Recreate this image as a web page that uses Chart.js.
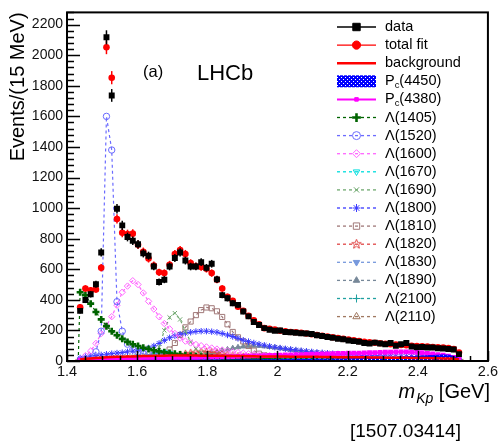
<!DOCTYPE html>
<html>
<head>
<meta charset="utf-8">
<title>m(Kp) projection</title>
<script src="https://cdn.jsdelivr.net/npm/chart.js@4.4.1/dist/chart.umd.min.js"></script>
<style>
  html, body { margin: 0; padding: 0; background: #fff; }
  #wrap { width: 500px; height: 444px; }
</style>
</head>
<body>
<div id="wrap"><canvas id="mkpChart" width="500" height="444"></canvas></div>
<script>
// binning: 15 MeV bins starting just below the K p threshold
const binStart = 1.43;
const binWidth = 0.015;
const threshold = 1.432;

// events per bin
const dataCounts = [328, 399, 436, 502, 710, 2117, 1737, 996, 887, 811,
  786, 764, 704, 689, 618, 517, 532, 618, 674, 710,
  657, 618, 618, 646, 610, 636, 534, 431, 410, 378,
  367, 324, 292, 255, 235, 215, 205, 198, 200, 190,
  188, 185, 182, 180, 176, 168, 163, 157, 152, 146,
  142, 134, 130, 126, 118, 115, 120, 114, 110, 118,
  100, 110, 118, 95, 90, 92, 88, 88, 84, 82,
  78, 75, 45];

const totalFit = [352, 474, 462, 468, 610, 2052, 1853, 929, 839, 830,
  833, 760, 715, 670, 625, 580, 575, 630, 700, 726,
  700, 640, 620, 615, 603, 575, 532, 474, 420, 393,
  355, 328, 295, 266, 240, 215, 210, 205, 198, 195,
  190, 188, 184, 180, 175, 170, 165, 160, 155, 150,
  145, 140, 135, 130, 126, 122, 119, 116, 113, 110,
  107, 105, 103, 100, 98, 96, 94, 92, 90, 88,
  84, 78, 55];

const background = [10, 14, 17, 20, 22, 24, 26, 27, 28, 29,
  30, 31, 32, 33, 34, 35, 35, 36, 36, 36,
  36, 36, 36, 35, 35, 35, 34, 34, 33, 33,
  32, 32, 31, 31, 30, 30, 30, 29, 29, 29,
  28, 28, 28, 27, 27, 27, 26, 26, 26, 25,
  25, 25, 24, 24, 24, 23, 23, 23, 22, 22,
  22, 21, 21, 20, 20, 19, 19, 18, 18, 17,
  16, 14, 10];

const pc4450 = [1, 1, 2, 2, 2, 2, 3, 3, 3, 3,
  3, 3, 4, 4, 4, 4, 4, 4, 5, 5,
  5, 5, 5, 5, 6, 6, 6, 6, 6, 6,
  7, 7, 7, 7, 7, 8, 8, 8, 8, 9,
  9, 9, 10, 10, 10, 11, 11, 12, 12, 13,
  13, 14, 14, 15, 16, 17, 18, 19, 20, 21,
  22, 24, 26, 28, 30, 32, 34, 36, 38, 40,
  38, 30, 15];

const pc4380 = [5, 6, 7, 8, 9, 10, 11, 12, 13, 14,
  15, 15, 16, 17, 18, 18, 19, 20, 20, 21,
  22, 22, 23, 24, 24, 25, 26, 27, 28, 29,
  30, 31, 32, 33, 34, 35, 36, 37, 38, 39,
  40, 41, 42, 43, 44, 45, 46, 47, 48, 49,
  50, 51, 52, 52, 53, 54, 55, 56, 57, 58,
  59, 60, 60, 58, 56, 54, 50, 46, 42, 38,
  32, 24, 12];

const lambda1405 = [450, 430, 375, 320, 272, 228, 195, 168, 145, 125,
  110, 98, 87, 78, 70, 63, 57, 52, 47, 42,
  38, 34, 31, 28, 25, 23, 21, 19, 17, 15,
  14, 13, 12, 11, 10, 9, 9, 8, 8, 7,
  7, 6, 6, 6, 5, 5, 5, 5, 4, 4,
  4, 4, 4, 3, 3, 3, 3, 3, 3, 2,
  2, 2, 2, 2, 2, 2, 2, 1, 1, 1,
  1, 1, 1];

const lambda1520 = [5, 10, 20, 60, 195, 1600, 1380, 388, 195, 110,
  75, 58, 48, 42, 38, 35, 32, 30, 28, 26,
  25, 24, 23, 22, 21, 20, 19, 18, 17, 16,
  16, 15, 14, 14, 13, 13, 12, 12, 11, 11,
  10, 10, 10, 9, 9, 9, 8, 8, 8, 8,
  7, 7, 7, 7, 6, 6, 6, 6, 5, 5,
  5, 5, 5, 4, 4, 4, 4, 4, 3, 3,
  3, 2, 1];

const lambda1600 = [10, 35, 65, 115, 180, 230, 290, 365, 450, 490,
  525, 500, 445, 390, 340, 290, 245, 210, 180, 150,
  130, 118, 108, 100, 92, 85, 78, 72, 66, 60,
  55, 51, 47, 44, 41, 38, 36, 34, 32, 30,
  29, 28, 27, 26, 25, 24, 23, 22, 21, 20,
  19, 18, 18, 17, 16, 16, 15, 15, 14, 14,
  13, 13, 12, 12, 11, 11, 10, 10, 9, 9,
  8, 7, 4];

const lambda1670 = [2, 3, 4, 5, 6, 7, 8, 9, 10, 12,
  14, 17, 22, 30, 42, 55, 60, 52, 40, 30,
  24, 20, 18, 16, 15, 14, 13, 12, 11, 11,
  10, 10, 9, 9, 9, 8, 8, 8, 7, 7,
  7, 7, 6, 6, 6, 6, 6, 5, 5, 5,
  5, 5, 5, 4, 4, 4, 4, 4, 4, 4,
  3, 3, 3, 3, 3, 3, 3, 3, 2, 2,
  2, 2, 1];

const lambda1690 = [5, 8, 10, 12, 15, 18, 20, 22, 25, 28,
  30, 32, 35, 40, 50, 90, 200, 285, 313, 272,
  195, 125, 80, 55, 44, 38, 34, 30, 28, 26,
  24, 22, 21, 20, 19, 18, 17, 16, 15, 15,
  14, 14, 13, 13, 12, 12, 11, 11, 11, 10,
  10, 10, 9, 9, 9, 8, 8, 8, 8, 7,
  7, 7, 7, 6, 6, 6, 6, 5, 5, 5,
  5, 4, 2];

const lambda1800 = [20, 28, 32, 36, 40, 44, 48, 52, 55, 60,
  64, 70, 76, 85, 98, 115, 135, 152, 165, 175,
  182, 188, 193, 195, 195, 192, 188, 180, 170, 160,
  148, 136, 127, 118, 110, 103, 96, 90, 85, 80,
  76, 72, 68, 64, 60, 57, 54, 51, 48, 46,
  44, 42, 40, 38, 36, 35, 34, 33, 32, 31,
  30, 30, 29, 29, 28, 28, 27, 27, 26, 25,
  22, 18, 10];

const lambda1810 = [3, 4, 5, 6, 7, 8, 9, 10, 11, 12,
  13, 15, 17, 20, 26, 34, 45, 75, 118, 170,
  220, 258, 300, 333, 350, 345, 325, 288, 240, 190,
  155, 128, 98, 68, 48, 38, 32, 28, 25, 23,
  21, 19, 18, 17, 16, 15, 14, 13, 12, 12,
  11, 11, 10, 10, 9, 9, 9, 8, 8, 8,
  7, 7, 7, 6, 6, 6, 6, 5, 5, 5,
  4, 4, 2];

const lambda1820 = [2, 3, 4, 5, 6, 7, 8, 9, 10, 11,
  12, 13, 14, 16, 18, 20, 23, 27, 32, 38,
  44, 50, 55, 58, 58, 55, 50, 44, 38, 33,
  28, 25, 22, 20, 18, 16, 15, 14, 13, 12,
  11, 11, 10, 10, 9, 9, 8, 8, 8, 7,
  7, 7, 6, 6, 6, 6, 5, 5, 5, 5,
  4, 4, 4, 4, 4, 3, 3, 3, 3, 3,
  2, 2, 1];

const lambda1830 = [1, 2, 2, 3, 3, 4, 4, 5, 5, 6,
  6, 7, 8, 9, 10, 11, 12, 13, 14, 15,
  16, 17, 18, 18, 19, 19, 19, 18, 18, 17,
  16, 15, 14, 13, 12, 12, 11, 10, 10, 9,
  9, 8, 8, 8, 7, 7, 7, 6, 6, 6,
  6, 5, 5, 5, 5, 5, 4, 4, 4, 4,
  4, 3, 3, 3, 3, 3, 3, 2, 2, 2,
  2, 2, 1];

const lambda1890 = [2, 3, 3, 4, 4, 5, 5, 6, 6, 7,
  8, 9, 10, 11, 12, 14, 16, 18, 20, 23,
  26, 30, 35, 40, 46, 53, 60, 68, 76, 84,
  90, 95, 99, 100, 99, 96, 92, 88, 83, 78,
  73, 68, 64, 60, 56, 52, 49, 46, 43, 40,
  38, 36, 34, 32, 30, 29, 27, 26, 25, 24,
  23, 22, 21, 20, 19, 18, 17, 16, 15, 14,
  12, 10, 5];

const lambda2100 = [1, 1, 2, 2, 2, 3, 3, 3, 4, 4,
  4, 5, 5, 5, 6, 6, 7, 7, 8, 8,
  9, 9, 10, 10, 11, 11, 12, 12, 13, 13,
  14, 14, 15, 15, 16, 16, 17, 17, 18, 18,
  18, 18, 18, 18, 17, 17, 16, 16, 15, 15,
  14, 14, 13, 13, 12, 12, 11, 11, 10, 10,
  9, 9, 8, 8, 7, 7, 6, 6, 5, 5,
  4, 3, 2];

const lambda2110 = [1, 2, 2, 3, 3, 3, 4, 4, 4, 5,
  5, 6, 6, 7, 7, 8, 8, 9, 10, 10,
  11, 12, 13, 14, 15, 16, 17, 18, 19, 20,
  21, 22, 23, 24, 25, 26, 27, 28, 29, 30,
  30, 31, 31, 31, 31, 31, 30, 30, 29, 28,
  27, 26, 25, 24, 23, 22, 21, 20, 19, 18,
  17, 16, 15, 14, 13, 12, 11, 10, 9, 8,
  7, 5, 3];

// axis
const xMin = 1.4, xMax = 2.6;
const yMax = 2280;
const xTicks = [1.4, 1.6, 1.8, 2, 2.2, 2.4, 2.6];
const yTicks = [0, 200, 400, 600, 800, 1000, 1200, 1400, 1600, 1800, 2000, 2200];

const FONT = "'Liberation Sans', Arial, Helvetica, sans-serif";
Chart.defaults.font.family = FONT;
Chart.defaults.color = '#000';

var binCenters = dataCounts.map(function (v, i) { return binStart + binWidth * (i + 0.5); });

function toPoints(values) {
  return values.map(function (v, i) { return { x: binCenters[i], y: v }; });
}
// fit components start at the K p threshold
function toCurve(values) {
  return [{ x: threshold, y: 0 }].concat(toPoints(values));
}

function hatchPattern() {
  var c = document.createElement('canvas');
  c.width = 4; c.height = 4;
  var g = c.getContext('2d');
  g.fillStyle = '#0000ff';
  g.fillRect(0, 0, 4, 4);
  g.fillStyle = '#ffffff';
  g.fillRect(1, 1, 1, 1);
  g.fillRect(3, 3, 1, 1);
  return g.createPattern(c, 'repeat');
}

function openStar(color) {
  var c = document.createElement('canvas');
  c.width = 11; c.height = 11;
  var g = c.getContext('2d');
  g.strokeStyle = color;
  g.lineWidth = 1;
  g.beginPath();
  for (var i = 0; i < 10; i++) {
    var r = i % 2 ? 2.1 : 5;
    var ang = -Math.PI / 2 + i * Math.PI / 5;
    var px = 5.5 + r * Math.cos(ang), py = 6 + r * Math.sin(ang);
    if (i === 0) g.moveTo(px, py); else g.lineTo(px, py);
  }
  g.closePath();
  g.stroke();
  return c;
}

function hideFirst(r) {
  return function (ctx) { return ctx.dataIndex === 0 ? 0 : r; };
}

function component(label, values, color, marker) {
  return Object.assign({
    label: label,
    data: toCurve(values),
    borderColor: color,
    backgroundColor: color,
    borderWidth: 1.2,
    borderDash: [3, 3],
    pointStyle: 'circle',
    pointRadius: hideFirst(3),
    pointBorderColor: color,
    pointBackgroundColor: 'rgba(0,0,0,0)',
    pointBorderWidth: 1,
    pointRotation: 0,
    fill: false,
    tension: 0
  }, marker);
}

var datasets = [
  {
    label: 'data', data: toPoints(dataCounts), showLine: false, errorBars: true,
    borderColor: '#000', backgroundColor: '#000', borderWidth: 1.5,
    pointStyle: 'rect', pointRadius: 4.2, pointBackgroundColor: '#000', pointBorderColor: '#000', pointBorderWidth: 0
  },
  {
    label: 'total fit', data: toPoints(totalFit), showLine: false, errorBars: true,
    borderColor: '#ff0000', backgroundColor: '#ff0000', borderWidth: 1.5,
    pointStyle: 'circle', pointRadius: 3.3, pointBackgroundColor: '#ff0000', pointBorderColor: '#ff0000', pointBorderWidth: 0
  },
  {
    label: 'background', data: toPoints(background), borderColor: '#ff0000', backgroundColor: '#ff0000',
    borderWidth: 2.5, pointRadius: 0, noMarker: true
  },
  {
    label: 'Pc(4450)', data: toPoints(pc4450), borderColor: '#0000ff', backgroundColor: hatchPattern(),
    borderWidth: 1, pointRadius: 0, fill: 'origin', hatched: true
  },
  {
    label: 'Pc(4380)', data: toPoints(pc4380), borderColor: '#ff00ff', backgroundColor: '#ff00ff',
    borderWidth: 2, pointStyle: 'rect', pointRadius: 2, pointBackgroundColor: '#ff00ff', pointBorderColor: '#ff00ff'
  },
  component('Λ(1405)', lambda1405, '#006400', { pointStyle: 'cross', pointBorderWidth: 2.6, pointRadius: hideFirst(3.5) }),
  component('Λ(1520)', lambda1520, '#6b6bff', { pointStyle: 'circle', pointRadius: hideFirst(3.2) }),
  component('Λ(1600)', lambda1600, '#ff66ff', { pointStyle: 'rectRot', pointRadius: hideFirst(3.2) }),
  component('Λ(1670)', lambda1670, '#00dede', { pointStyle: 'triangle', pointRotation: 180, pointBackgroundColor: 'rgba(0,0,0,0)' }),
  component('Λ(1690)', lambda1690, '#6fa86f', { pointStyle: 'crossRot', pointRadius: hideFirst(3) }),
  component('Λ(1800)', lambda1800, '#3a3aff', { pointStyle: 'star', pointRadius: hideFirst(3.2) }),
  component('Λ(1810)', lambda1810, '#a07878', { pointStyle: 'rect', pointRadius: hideFirst(3.6) }),
  component('Λ(1820)', lambda1820, '#e04848', { pointStyle: openStar('#e04848') }),
  component('Λ(1830)', lambda1830, '#7799dd', { pointStyle: 'triangle', pointRotation: 180, pointBackgroundColor: '#7799dd' }),
  component('Λ(1890)', lambda1890, '#778899', { pointStyle: 'triangle', pointBackgroundColor: '#778899' }),
  component('Λ(2100)', lambda2100, '#20a0a0', { pointStyle: 'cross', pointRadius: hideFirst(3.2) }),
  component('Λ(2110)', lambda2110, '#a07860', { pointStyle: 'triangle', pointRadius: hideFirst(3.4) })
];

// sqrt(N) error bars on data and fit points
var errorBarPlugin = {
  id: 'errorBars',
  afterDatasetDraw: function (chart, args) {
    var ds = chart.data.datasets[args.index];
    if (!ds.errorBars) return;
    var ctx = chart.ctx, y = chart.scales.y;
    ctx.save();
    ctx.strokeStyle = ds.borderColor;
    ctx.lineWidth = 1.5;
    args.meta.data.forEach(function (pt, i) {
      var v = ds.data[i].y, err = Math.sqrt(v);
      ctx.beginPath();
      ctx.moveTo(pt.x, y.getPixelForValue(v - err));
      ctx.lineTo(pt.x, y.getPixelForValue(v + err));
      ctx.stroke();
    });
    ctx.restore();
  }
};

// ROOT style frame with ticks pointing inwards
var framePlugin = {
  id: 'frame',
  afterDatasetsDraw: function (chart) {
    var ctx = chart.ctx, a = chart.chartArea, x = chart.scales.x, y = chart.scales.y;
    ctx.save();
    ctx.strokeStyle = '#000';
    ctx.lineWidth = 1.5;
    ctx.beginPath();
    for (var v = 0; v <= yMax; v += 40) {
      var py = Math.round(y.getPixelForValue(v)) + 0.5;
      var len = v % 200 === 0 ? 13 : 7;
      ctx.moveTo(a.left, py); ctx.lineTo(a.left + len, py);
    }
    for (var i = 0; ; i++) {
      var xv = xMin + i * 0.05;
      if (xv > xMax + 1e-9) break;
      var px = Math.round(x.getPixelForValue(xv)) + 0.5;
      var l = i % 4 === 0 ? 10 : 5;
      ctx.moveTo(px, a.bottom); ctx.lineTo(px, a.bottom - l);
    }
    ctx.stroke();
    ctx.lineWidth = 2;
    ctx.strokeRect(a.left, a.top, a.right - a.left, a.bottom - a.top);
    ctx.restore();
  }
};

function drawPcLabel(ctx, text, x, y, size) {
  // "P" with subscript c
  ctx.font = size + 'px ' + FONT;
  ctx.fillText('P', x, y);
  var w = ctx.measureText('P').width;
  ctx.font = (size * 0.65) + 'px ' + FONT;
  ctx.fillText('c', x + w, y + 4);
  var w2 = ctx.measureText('c').width;
  ctx.font = size + 'px ' + FONT;
  ctx.fillText(text.slice(2), x + w + w2, y);
}

var legendPlugin = {
  id: 'sideLegend',
  afterDraw: function (chart) {
    var ctx = chart.ctx;
    var x0 = 337, x1 = 376, tx = 385, top = 27, step = 18.1, fontSize = 14.5;
    ctx.save();
    chart.data.datasets.forEach(function (ds, i) {
      var yy = top + i * step;
      if (ds.hatched) {
        ctx.fillStyle = ds.backgroundColor;
        ctx.fillRect(x0, yy - 6, x1 - x0, 12);
      } else {
        ctx.strokeStyle = ds.borderColor;
        ctx.lineWidth = ds.borderWidth > 1.5 ? ds.borderWidth : 1.3;
        ctx.setLineDash(ds.borderDash || []);
        ctx.beginPath();
        ctx.moveTo(x0, yy); ctx.lineTo(x1, yy);
        ctx.stroke();
        ctx.setLineDash([]);
        if (!ds.noMarker) {
          var r = typeof ds.pointRadius === 'function' ? ds.pointRadius({ dataIndex: 1 }) : ds.pointRadius;
          ctx.fillStyle = ds.pointBackgroundColor;
          ctx.strokeStyle = ds.pointBorderColor;
          ctx.lineWidth = ds.pointBorderWidth || 1;
          var opts = { pointStyle: ds.pointStyle, rotation: ds.pointRotation || 0, radius: Math.max(r, 2) * 1.25, borderWidth: ds.pointBorderWidth || 1 };
          if (ds.pointStyle instanceof HTMLCanvasElement) {
            ctx.drawImage(ds.pointStyle, (x0 + x1) / 2 - 5.5, yy - 6);
          } else {
            Chart.helpers.drawPoint(ctx, opts, (x0 + x1) / 2, yy);
          }
        }
      }
      ctx.fillStyle = '#000';
      ctx.textBaseline = 'middle';
      ctx.textAlign = 'left';
      if (ds.label.indexOf('Pc') === 0) {
        drawPcLabel(ctx, ds.label, tx, yy, fontSize);
      } else {
        ctx.font = fontSize + 'px ' + FONT;
        ctx.fillText(ds.label, tx, yy);
      }
    });
    ctx.restore();
  }
};

var labelsPlugin = {
  id: 'extraLabels',
  afterDraw: function (chart) {
    var ctx = chart.ctx;
    ctx.save();
    ctx.fillStyle = '#000';
    ctx.textBaseline = 'alphabetic';
    ctx.textAlign = 'left';
    ctx.font = '16.5px ' + FONT;
    ctx.fillText('(a)', 143, 77);
    ctx.font = '22px ' + FONT;
    ctx.fillText('LHCb', 197, 80);

    // x axis title: m_Kp [GeV], right aligned to the frame
    var by = 398;
    ctx.font = 'italic 20px ' + FONT;
    var wm = ctx.measureText('m').width;
    ctx.font = 'italic 14px ' + FONT;
    var wk = ctx.measureText('Kp').width;
    ctx.font = '20px ' + FONT;
    var wg = ctx.measureText(' [GeV]').width;
    var bx = 490 - (wm + 1 + wk + wg);
    ctx.font = 'italic 20px ' + FONT;
    ctx.fillText('m', bx, by);
    bx += wm + 1;
    ctx.font = 'italic 14px ' + FONT;
    ctx.fillText('Kp', bx, by + 5);
    bx += wk;
    ctx.font = '20px ' + FONT;
    ctx.fillText(' [GeV]', bx, by);

    ctx.font = '19px ' + FONT;
    ctx.fillText('[1507.03414]', 350, 437);
    ctx.restore();
  }
};

var ctx = document.getElementById('mkpChart').getContext('2d');
var myChart = new Chart(ctx, {
  type: 'line',
  data: { datasets: datasets },
  options: {
    responsive: false,
    animation: false,
    layout: { padding: { top: 8, right: 12, left: 0, bottom: 0 } },
    plugins: {
      legend: { display: false },
      tooltip: { enabled: false }
    },
    scales: {
      x: {
        type: 'linear', min: xMin, max: xMax,
        grid: { display: false, drawTicks: false }, border: { display: false },
        afterBuildTicks: function (scale) {
          scale.ticks = xTicks.map(function (v) { return { value: v }; });
        },
        afterFit: function (scale) { scale.height = 83; },
        ticks: {
          font: { size: 14.5 }, color: '#111', padding: 2, maxRotation: 0, autoSkip: false,
          callback: function (v) { return String(Math.round(v * 10) / 10); }
        }
      },
      y: {
        min: 0, max: yMax,
        grid: { display: false, drawTicks: false }, border: { display: false },
        afterBuildTicks: function (scale) {
          scale.ticks = yTicks.map(function (v) { return { value: v }; });
        },
        afterFit: function (scale) { scale.width = 67; },
        ticks: {
          font: { size: 14 }, color: '#111', padding: 4, autoSkip: false,
          callback: function (v) { return String(v); }
        },
        title: {
          display: true, text: 'Events/(15 MeV)', align: 'end',
          font: { size: 20 }, color: '#000', padding: { top: 6, bottom: 0 }
        }
      }
    }
  },
  plugins: [errorBarPlugin, framePlugin, legendPlugin, labelsPlugin]
});
</script>
</body>
</html>
